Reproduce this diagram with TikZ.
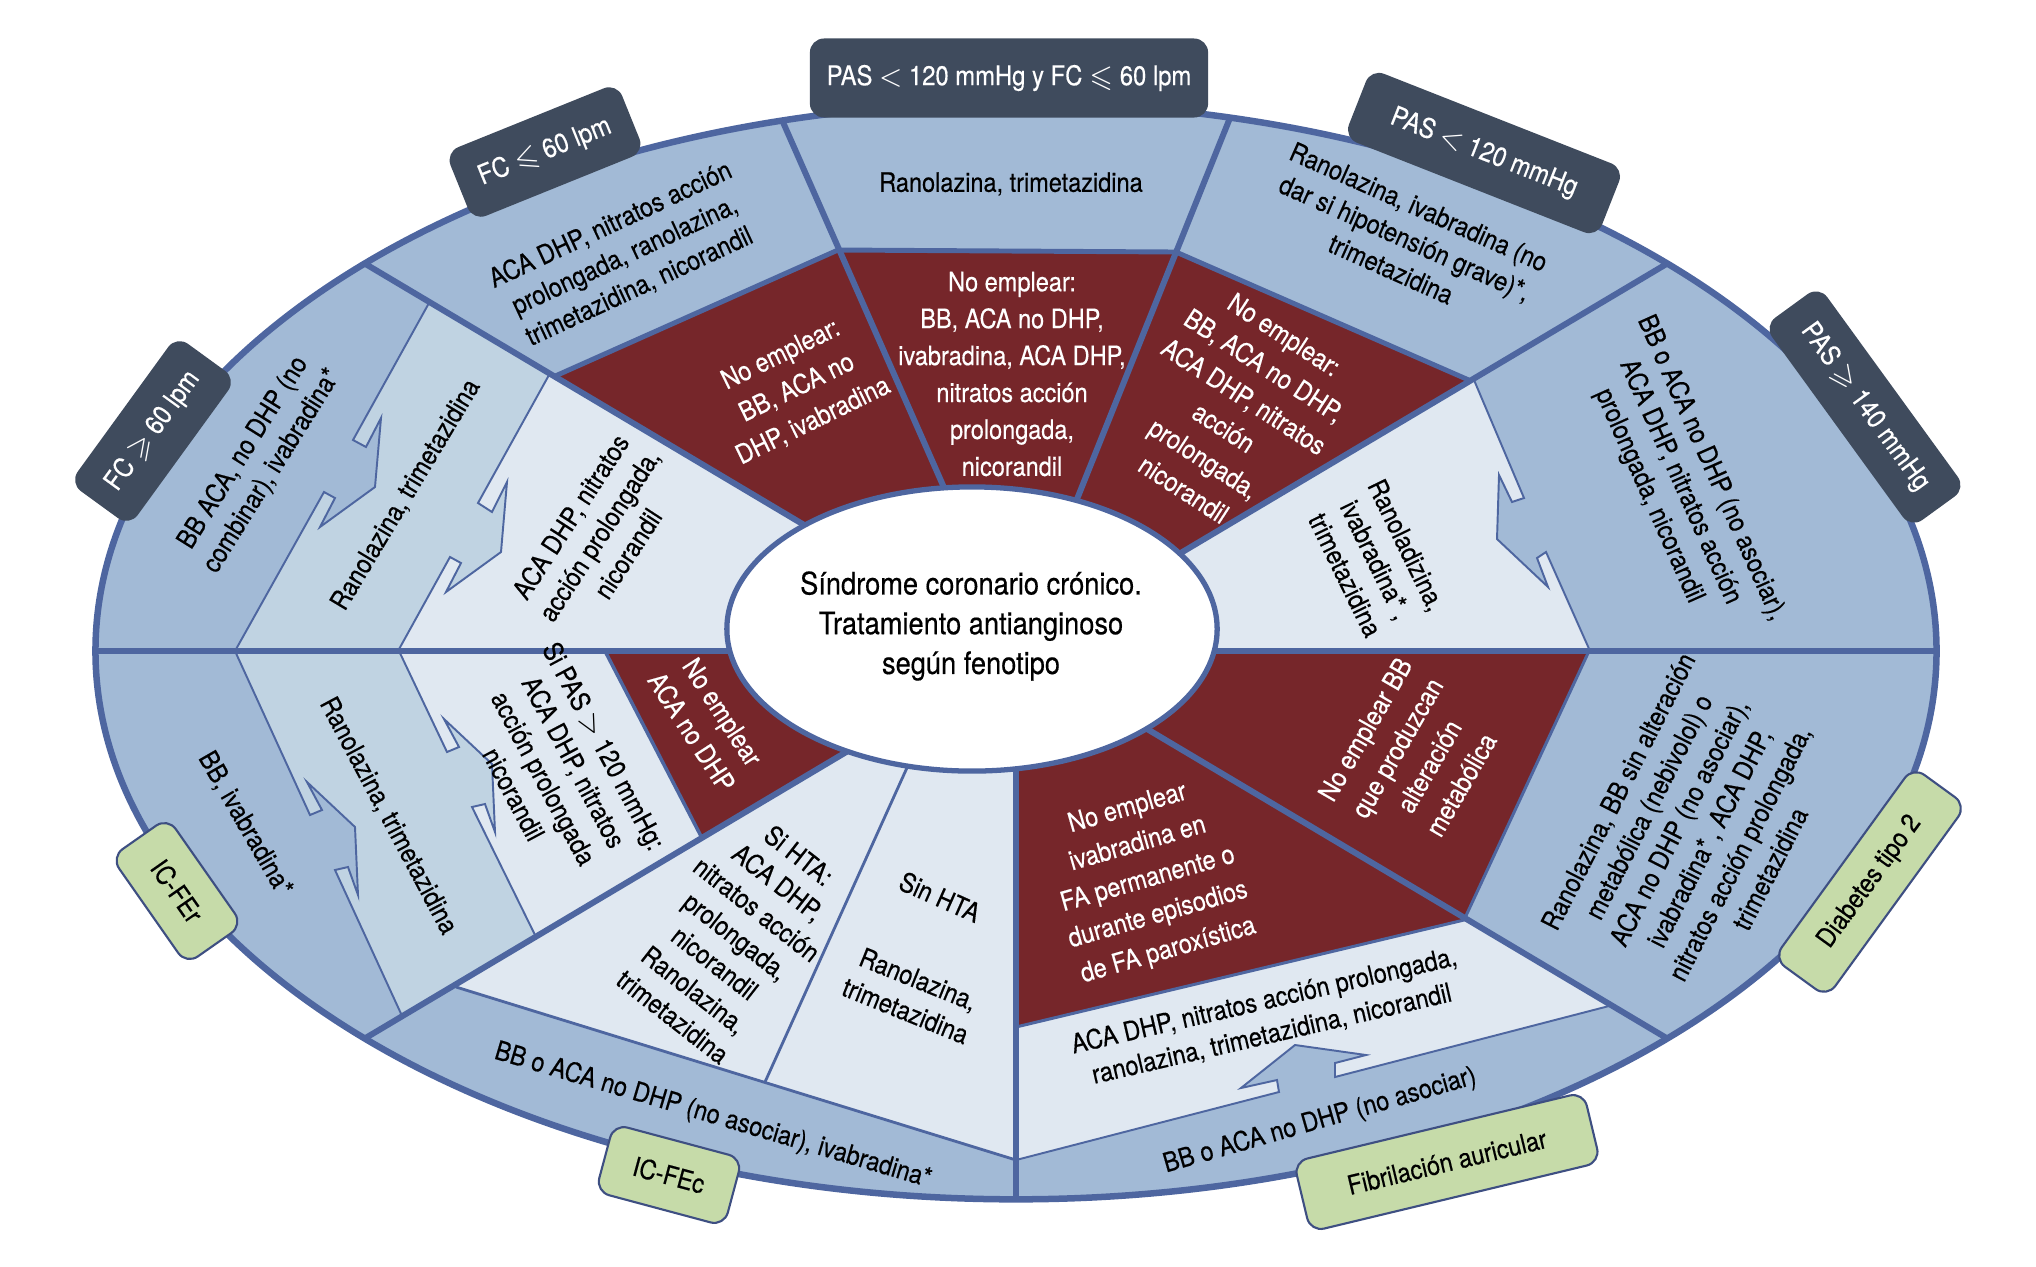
\documentclass[tikz,border=0pt]{standalone}
\usepackage{amssymb}
\usepackage{fontspec}
\setmainfont{TeX Gyre Heros}[FakeStretch=0.88, FakeBold=0.4]
\usetikzlibrary{positioning}

\definecolor{ringblue}{HTML}{A2BAD6}
\definecolor{midblue}{HTML}{C0D3E2}
\definecolor{paleblue}{HTML}{E0E8F1}
\definecolor{darkred}{HTML}{76262A}
\definecolor{lineblue}{HTML}{4E66A0}
\definecolor{slate}{HTML}{3F4B5D}
\definecolor{sage}{HTML}{C6DBA9}
\definecolor{sageedge}{HTML}{3E4F82}

\begin{document}
\begin{tikzpicture}[
    x=0.01cm, y=-0.01cm,
    sep/.style={lineblue, line width=1.7pt},
    mid sep/.style={lineblue, line width=1pt},
    fine sep/.style={lineblue, line width=0.55pt},
    txt/.style={align=center, inner sep=0pt, font=\fontsize{7.6}{9.7}\selectfont},
    warn/.style={align=center, inner sep=0pt, text=white, font=\fontsize{7.6}{10.5}\selectfont},
    tag/.style={fill=slate, text=white, rounded corners=4pt, inner sep=0pt, minimum height=0.74cm, font=\fontsize{7.7}{9}\selectfont},
    pheno/.style={fill=sage, draw=sageedge, line width=0.6pt, rounded corners=4pt, inner sep=0pt, minimum height=0.7cm, font=\fontsize{7.6}{9}\selectfont}
  ]

  \useasboundingbox (0,0) rectangle (2036,1266);
  \coordinate (c) at (1016,651);

  \fill[ringblue] (c) ellipse [x radius=9.2cm, y radius=5.48cm];

  \begin{scope}
    \clip (c) ellipse [x radius=9.2cm, y radius=5.48cm];

    % FC >= 60 lpm
    \fill[midblue] (429,303) -- (353,440) -- (366,447) -- (381,418) -- (375,487) -- (320,527) -- (335,498) -- (324,492) -- (235,651) -- (c) -- cycle;
    \fill[paleblue] (549,375) -- (478,503) -- (492,512) -- (507,482) -- (501,552) -- (446,592) -- (461,563) -- (450,557) -- (398,651) -- (c) -- cycle;
    % IC-FEr
    \fill[midblue] (235,651) -- (310,815) -- (322,810) -- (307,782) -- (355,827) -- (358,895) -- (348,867) -- (335,870) -- (403,1018) -- (c) -- cycle;
    \fill[paleblue] (399,651) -- (447,752) -- (459,747) -- (444,719) -- (492,764) -- (495,832) -- (485,804) -- (472,807) -- (537,939) -- (c) -- cycle;
    \fill[darkred] (605,651) -- (703,840) -- (c) -- cycle;
    % IC-FEc
    \fill[paleblue] (456,987) -- (1016,1160) -- (c) -- cycle;
    % fibrilacion auricular
    \fill[paleblue] (1609,1006) -- (1335,1077) -- (1335,1063) -- (1366,1055) -- (1295,1045) -- (1241,1088) -- (1277,1080) -- (1279,1092) -- (1016,1160) -- (c) -- cycle;
    \fill[darkred] (1464,920) -- (1016,1027) -- (c) -- cycle;
    % diabetes
    \fill[darkred] (1589,651) -- (1464,920) -- (c) -- cycle;
    % PAS >= 140
    \fill[paleblue] (1474,380) -- (1524,498) -- (1512,502) -- (1499,475) -- (1497,539) -- (1548,587) -- (1537,558) -- (1546,552) -- (1590,651) -- (c) -- cycle;
    % top
    \fill[darkred] (553,377) -- (838,250) -- (1176,252) -- (1471,381) -- (c) -- cycle;

    \draw[fine sep] (429,303) -- (353,440) -- (366,447) -- (381,418) -- (375,487) -- (320,527) -- (335,498) -- (324,492) -- (235,651);
    \draw[fine sep] (549,375) -- (478,503) -- (492,512) -- (507,482) -- (501,552) -- (446,592) -- (461,563) -- (450,557) -- (398,651);
    \draw[fine sep] (235,651) -- (310,815) -- (322,810) -- (307,782) -- (355,827) -- (358,895) -- (348,867) -- (335,870) -- (403,1018);
    \draw[fine sep] (399,651) -- (447,752) -- (459,747) -- (444,719) -- (492,764) -- (495,832) -- (485,804) -- (472,807) -- (537,939);
    \draw[fine sep] (1474,380) -- (1524,498) -- (1512,502) -- (1499,475) -- (1497,539) -- (1548,587) -- (1537,558) -- (1546,552) -- (1590,651);
    \draw[fine sep] (1609,1006) -- (1335,1077) -- (1335,1063) -- (1366,1055) -- (1295,1045) -- (1241,1088) -- (1277,1080) -- (1279,1092) -- (1016,1160);
    \draw[fine sep, line width=0.8pt] (456,987) -- (1016,1160);
    \draw[fine sep, line width=0.8pt] (915,750) -- (765,1082);

    \draw[mid sep] (605,651) -- (703,840);
    \draw[mid sep, line width=0.85pt] (1589,651) -- (1464,920) -- (1016,1027);
    \draw[sep, line width=1.4pt] (553,377) -- (838,250) -- (1176,252) -- (1471,381);
    \draw[sep] (0,651) -- (2036,651);
    \draw[sep] (300,225) -- (1732,1077);
    \draw[sep] (300,1077) -- (1732,225);
    \draw[sep] (c) -- (760,70);
    \draw[sep] (c) -- (1250,68);
    \draw[sep] (c) -- (1016,1266);
  \end{scope}

  \filldraw[fill=white, draw=lineblue, line width=1.5pt] (972,629) ellipse [x radius=2.45cm, y radius=1.42cm];
  \draw[lineblue, line width=1.85pt] (c) ellipse [x radius=9.2cm, y radius=5.48cm];

  \node[align=center, inner sep=0pt, font=\fontsize{8.8}{11.3}\selectfont] (core) at (971,626) {Síndrome coronario crónico.\\Tratamiento antianginoso\\según fenotipo};

  \node[txt] (topOuter) at (1011,184) {Ranolazina, trimetazidina};
  \node[warn] (topRed) at (1012,374) {No emplear:\\BB, ACA no DHP,\\ivabradina, ACA DHP,\\nitratos acción\\prolongada,\\nicorandil};
  \node[txt, rotate=25] (fcLowOuter) at (625,256) {ACA DHP, nitratos acción\\prolongada, ranolazina,\\trimetazidina, nicorandil};
  \node[warn, rotate=26] (fcLowRed) at (797,388) {No emplear:\\BB, ACA no\\DHP, ivabradina};
  \node[txt, rotate=-24] (pasLowOuter) at (1405,238) {Ranolazina, ivabradina (no\\dar si hipotensión grave)*,\\trimetazidina};
  \node[warn, rotate=-33] (pasLowRed) at (1234,412) {No emplear:\\BB, ACA no DHP,\\ACA DHP, nitratos\\acción\\prolongada,\\nicorandil};
  \node[txt, rotate=-66] (pasHighOuter) at (1680,482) {BB o ACA no DHP (no asociar),\\ACA DHP, nitratos acción\\prolongada, nicorandil};
  \node[txt, rotate=-64] (pasHighPale) at (1376,560) {Ranoladizina,\\ivabradina*\,,\\trimetazidina};
  \node[txt, rotate=63] (dmOuter) at (1694,830) {Ranolazina, BB sin alteración\\metabólica (nebivolol) o\\ACA no DHP (no asociar),\\ivabradina*\,, ACA DHP,\\nitratos acción prolongada,\\trimetazidina};
  \node[warn, rotate=60] (dmRed) at (1413,757) {No emplear BB\\que produzcan\\alteración\\metabólica};
  \node[warn, rotate=16] (faRed) at (1148,880) {No emplear\\ivabradina en\\FA permanente o\\durante episodios\\de FA paroxística};
  \node[txt, rotate=13] (faPale) at (1268,1018) {ACA DHP, nitratos acción prolongada,\\ranolazina, trimetazidina, nicorandil};
  \node[txt, rotate=16] (faOuter) at (1320,1121) {BB o ACA no DHP (no asociar)};
  \node[txt, rotate=-16.5] (fecOuter) at (713,1116) {BB o ACA no DHP (no asociar), ivabradina*};
  \node[txt, rotate=-38] (fecHta) at (736,936) {Si HTA:\\ACA DHP,\\nitratos acción\\prolongada,\\nicorandil\\Ranolazina,\\trimetazidina};
  \node[txt, rotate=-24] (fecNoHta) at (940,897) {Sin HTA};
  \node[txt, rotate=-22] (fecNoHtaDrug) at (912,995) {Ranolazina,\\trimetazidina};
  \node[txt, rotate=-60] (ferOuter) at (245,824) {BB, ivabradina*};
  \node[txt, rotate=-62] (ferMid) at (388,816) {Ranolazina, trimetazidina};
  \node[txt, rotate=-62] (ferPale) at (559,770) {Si PAS $>$ 120 mmHg:\\ACA DHP, nitratos\\acción prolongada\\nicorandil};
  \node[warn, rotate=-57] (ferRed) at (707,722) {No emplear\\ACA no DHP};
  \node[txt, rotate=58] (fcHighOuter) at (258,462) {BB ACA, no DHP (no\\combinar), ivabradina*};
  \node[txt, rotate=59] (fcHighMid) at (406,495) {Ranolazina, trimetazidina};
  \node[txt, rotate=57] (fcHighPale) at (599,535) {ACA DHP, nitratos\\acción prolongada,\\nicorandil};

  \node[tag, minimum width=3.98cm, minimum height=0.79cm] (tagTop) at (1009,78) {PAS $<$ 120 mmHg y FC $\leqslant$ 60 lpm};
  \node[tag, minimum width=1.85cm, rotate=22] (tagFcLow) at (545,152) {FC $\leqslant$ 60 lpm};
  \node[tag, minimum width=1.82cm, rotate=54] (tagFcHigh) at (153,431) {FC $\geqslant$ 60 lpm};
  \node[tag, minimum width=2.72cm, rotate=-21.5] (tagPasLow) at (1484,153) {PAS $<$ 120 mmHg};
  \node[tag, minimum width=2.5cm, minimum height=0.68cm, rotate=-54] (tagPasHigh) at (1865,407) {PAS $\geqslant$ 140 mmHg};

  \node[pheno, minimum width=1.31cm, minimum height=0.69cm, rotate=-55] (tagFer) at (177,891) {IC-FEr};
  \node[pheno, minimum width=1.33cm, rotate=-15] (tagFec) at (669,1175) {IC-FEc};
  \node[pheno, minimum width=2.98cm, minimum height=0.72cm, rotate=13.5] (tagFa) at (1447,1162) {Fibrilación auricular};
  \node[pheno, minimum width=2.37cm, minimum height=0.66cm, rotate=54] (tagDm) at (1870,882) {Diabetes tipo 2};

\end{tikzpicture}
\end{document}
